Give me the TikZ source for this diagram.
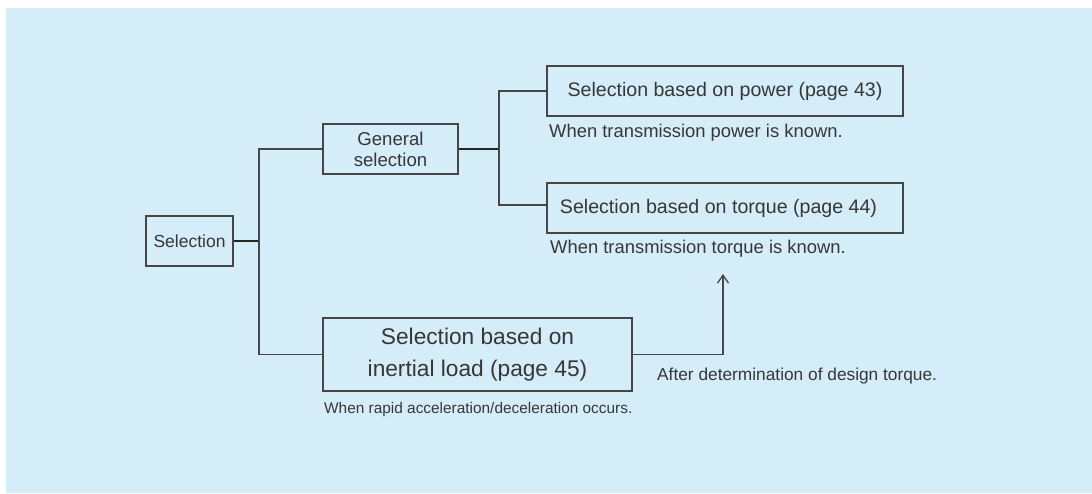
\documentclass[tikz,border=0pt]{standalone}
\usepackage{fontspec}
\setmainfont{Liberation Sans}
\usepackage{tikz}
\usetikzlibrary{calc,positioning,arrows.meta}
\definecolor{bgblue}{RGB}{213,236,249}
\definecolor{linegray}{RGB}{70,70,70}
\definecolor{textgray}{RGB}{55,55,55}

\tikzset{
  box/.style={draw=linegray, line width=1.4pt, inner sep=0pt, align=center, text=textgray},
  link/.style={draw=linegray, line width=1.3pt},
  boldlink/.style={draw=black!85, line width=2.4pt},
  caption/.style={anchor=west, inner sep=0pt, text=textgray}
}

\begin{document}
\begin{tikzpicture}[x=1pt, y=-1pt]
  \useasboundingbox (0,0) rectangle (1092,493);
  \fill[bgblue] (6,8) rectangle (1092,493);

  % Boxes
  \node[box, minimum width=87pt, minimum height=50pt,
    font=\fontsize{17.5}{21}\selectfont] (sel) at (189.5,241) {Selection};
  \node[box, minimum width=135pt, minimum height=50pt,
    font=\fontsize{18.6}{21}\selectfont] (gen) at (390.5,149) {General\\ selection};
  \node[box, minimum width=356pt, minimum height=50pt,
    font=\fontsize{19.6}{22}\selectfont] (pow) at (725,91) {Selection based on power (page 43)};
  \node[box, minimum width=356pt, minimum height=50pt,
    font=\fontsize{19.6}{22}\selectfont] (tor) at (725,208)
    {\hspace*{-13pt}Selection based on torque (page 44)};
  \node[box, minimum width=309pt, minimum height=73pt,
    font=\fontsize{22.7}{32}\selectfont] (inr) at (477.5,354.5)
    {Selection based on\\ inertial load (page 45)};

  % Captions
  \node[caption, font=\fontsize{18.4}{22}\selectfont] (powcap) at (549,133)
    {When transmission power is known.};
  \node[caption, font=\fontsize{18.4}{22}\selectfont] (torcap) at (550,249)
    {When transmission torque is known.};
  \node[caption, font=\fontsize{15.4}{18}\selectfont] (inrcap) at (324,410)
    {When rapid acceleration/deceleration occurs.};
  \node[caption, font=\fontsize{17.3}{20}\selectfont] (aftcap) at (657,376)
    {After determination of design torque.};

  % Connectors
  \coordinate (jn1) at (259,241);
  \coordinate (jn2) at (499,149);
  \coordinate (tip) at (723,274);
  \draw[boldlink] (sel.east) -- (jn1);
  \draw[link] (gen.west) -| (jn1) |- (inr.west);
  \draw[boldlink] (gen.east) -- (jn2);
  \draw[link] (pow.west) -| (jn2) |- ($(tor.west)+(0,-3)$);
  \draw[link, -{Straight Barb[length=8pt,width=11pt]}] (inr.east) -| (tip);
\end{tikzpicture}
\end{document}
